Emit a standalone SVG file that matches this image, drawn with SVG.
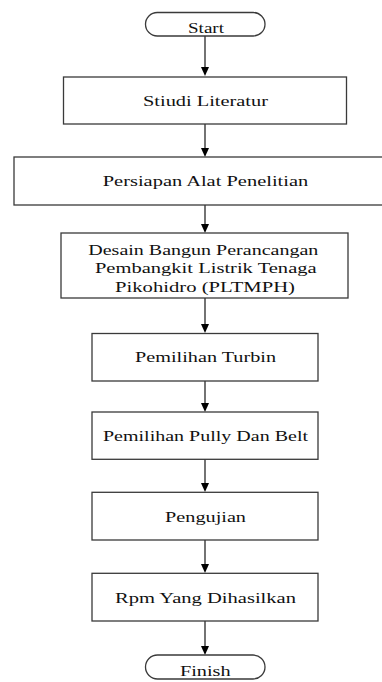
<svg xmlns="http://www.w3.org/2000/svg" width="382" height="682" viewBox="0 0 382 682">
<style>
.box{fill:#fff;stroke:#3a3a3a;stroke-width:1.3}
.t{font-family:"Liberation Serif","Times New Roman","DejaVu Serif",serif;font-size:15px;fill:#111;text-anchor:middle}
.c{stroke:#000;stroke-width:1.1;fill:none}
.h{fill:#000}
</style>
<rect width="382" height="682" fill="#fff"/>
<g id="connectors">
<line class="c" x1="205" y1="36" x2="205" y2="67"/>
<path class="h" d="M201,67 L209,67 L205,76 Z"/>
<line class="c" x1="205" y1="124" x2="205" y2="148"/>
<path class="h" d="M201,148 L209,148 L205,157 Z"/>
<line class="c" x1="205" y1="205" x2="205" y2="224"/>
<path class="h" d="M201,224 L209,224 L205,233 Z"/>
<line class="c" x1="205" y1="298" x2="205" y2="324"/>
<path class="h" d="M201,324 L209,324 L205,333 Z"/>
<line class="c" x1="205" y1="381" x2="205" y2="403"/>
<path class="h" d="M201,403 L209,403 L205,412 Z"/>
<line class="c" x1="205" y1="459" x2="205" y2="483"/>
<path class="h" d="M201,483 L209,483 L205,492 Z"/>
<line class="c" x1="205" y1="540" x2="205" y2="564"/>
<path class="h" d="M201,564 L209,564 L205,573 Z"/>
<line class="c" x1="205" y1="621" x2="205" y2="646"/>
<path class="h" d="M201,646 L209,646 L205,655 Z"/>
</g>
<g id="start">
<rect class="box" x="145.5" y="12.5" width="119.5" height="23.5" rx="11.75" ry="11.75" stroke="#000"/>
<text class="t" x="206" y="32.5" textLength="36" lengthAdjust="spacingAndGlyphs">Start</text>
</g>
<g id="studi">
<rect class="box" x="63.5" y="77" width="283" height="47"/>
<text class="t" x="205.5" y="105.5" textLength="125" lengthAdjust="spacingAndGlyphs">Stiudi Literatur</text>
</g>
<g id="persiapan">
<rect class="box" x="14" y="157" width="382" height="48"/>
<text class="t" x="205.5" y="185.7" textLength="205.6" lengthAdjust="spacingAndGlyphs">Persiapan Alat Penelitian</text>
</g>
<g id="desain">
<rect class="box" x="61" y="233" width="287" height="65"/>
<text class="t" x="203.3" y="254.5" textLength="230" lengthAdjust="spacingAndGlyphs">Desain Bangun Perancangan</text>
<text class="t" x="205.8" y="273.3" textLength="221.7" lengthAdjust="spacingAndGlyphs">Pembangkit Listrik Tenaga</text>
<text class="t" x="205" y="291.7" textLength="180" lengthAdjust="spacingAndGlyphs">Pikohidro (PLTMPH)</text>
</g>
<g id="turbin">
<rect class="box" x="92" y="333.5" width="226" height="47.5"/>
<text class="t" x="205.5" y="362.3" textLength="141" lengthAdjust="spacingAndGlyphs">Pemilihan Turbin</text>
</g>
<g id="pully">
<rect class="box" x="92" y="412" width="226" height="47.3"/>
<text class="t" x="205.5" y="441" textLength="205" lengthAdjust="spacingAndGlyphs">Pemilihan Pully Dan Belt</text>
</g>
<g id="pengujian">
<rect class="box" x="92" y="492.3" width="226" height="47.7"/>
<text class="t" x="205.5" y="521.7" textLength="81" lengthAdjust="spacingAndGlyphs">Pengujian</text>
</g>
<g id="rpm">
<rect class="box" x="92" y="573.3" width="226" height="47.7"/>
<text class="t" x="205.5" y="603.3" textLength="181" lengthAdjust="spacingAndGlyphs">Rpm Yang Dihasilkan</text>
</g>
<g id="finish">
<rect class="box" x="145.5" y="655" width="119.5" height="24" rx="12" ry="12" stroke="#000"/>
<text class="t" x="205.3" y="676" textLength="50.7" lengthAdjust="spacingAndGlyphs">Finish</text>
</g>
</svg>
